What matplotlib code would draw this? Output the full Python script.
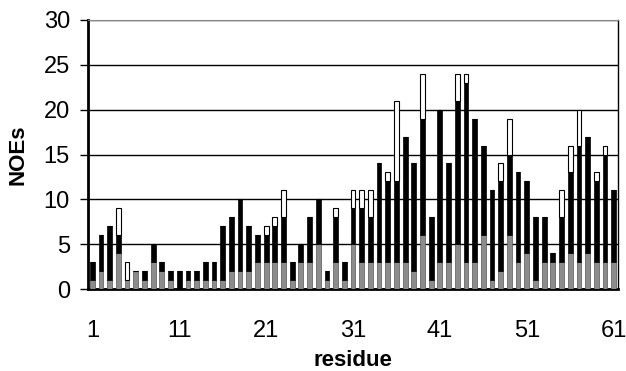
import matplotlib
matplotlib.use("Agg")
import matplotlib.pyplot as plt
import numpy as np

plt.rcParams['font.family'] = ['Liberation Sans', 'DejaVu Sans']

residues = np.arange(1, 62)
# bottom (gray), middle (black), top (white) NOE counts per residue
gray = [1, 2, 1, 4, 1, 2, 1, 3, 2, 1,
        0, 1, 1, 1, 1, 1, 2, 2, 2, 3,
        3, 3, 3, 1, 3, 3, 5, 1, 3, 1,
        5, 3, 3, 3, 3, 3, 3, 2, 6, 1,
        3, 3, 5, 3, 3, 6, 1, 2, 6, 3,
        4, 1, 3, 3, 3, 4, 3, 4, 3, 3,
        3]
black = [2, 4, 6, 2, 0, 0, 1, 2, 1, 1,
         2, 1, 1, 2, 2, 6, 6, 8, 5, 3,
         3, 4, 5, 2, 2, 5, 5, 1, 5, 2,
         4, 6, 5, 11, 9, 9, 14, 12, 13, 7,
         17, 11, 16, 20, 16, 10, 10, 10, 9, 10,
         8, 7, 5, 1, 5, 9, 13, 13, 9, 12,
         8]
white = [0, 0, 0, 3, 2, 0, 0, 0, 0, 0,
         0, 0, 0, 0, 0, 0, 0, 0, 0, 0,
         1, 1, 3, 0, 0, 0, 0, 0, 1, 0,
         2, 2, 3, 0, 1, 9, 0, 0, 5, 0,
         0, 0, 3, 1, 0, 0, 0, 2, 4, 0,
         0, 0, 0, 0, 3, 3, 4, 0, 1, 1,
         0]
xticks = [1, 11, 21, 31, 41, 51, 61]

gray = np.array(gray)
black = np.array(black)
white = np.array(white)

fig = plt.figure(figsize=(6.26, 3.71), dpi=100)
ax = fig.add_axes([88 / 626, 1 - 289 / 371, 530 / 626, 269 / 371])

w = 0.55
ax.bar(residues, gray, w, color='#8c8c8c', edgecolor='#555555', linewidth=0.5, zorder=3)
ax.bar(residues, black, w, bottom=gray, color='black', edgecolor='black', linewidth=0.5, zorder=3)
ax.bar(residues, white, w, bottom=gray + black, color='white', edgecolor='black', linewidth=0.8, zorder=3)

ax.set_xlim(0.5, 61.5)
ax.set_ylim(0, 30)
ax.set_yticks(range(0, 31, 5))
ax.set_xticks(xticks)
ax.yaxis.grid(True, color='black', linewidth=1.0, zorder=0)
ax.set_axisbelow(True)

ax.tick_params(axis='x', length=0, pad=22, labelsize=17)
ax.tick_params(axis='y', length=6, width=1, direction='out', pad=7, labelsize=17)

for s in ['left', 'bottom']:
    ax.spines[s].set_linewidth(2)
ax.spines['top'].set_color('#888888')
ax.spines['right'].set_linewidth(1)

ax.set_ylabel('NOEs', fontsize=16, fontweight='bold', labelpad=11)
ax.set_xlabel('residue', fontsize=16, fontweight='bold', labelpad=6)

fig.savefig('out.png', dpi=100)
